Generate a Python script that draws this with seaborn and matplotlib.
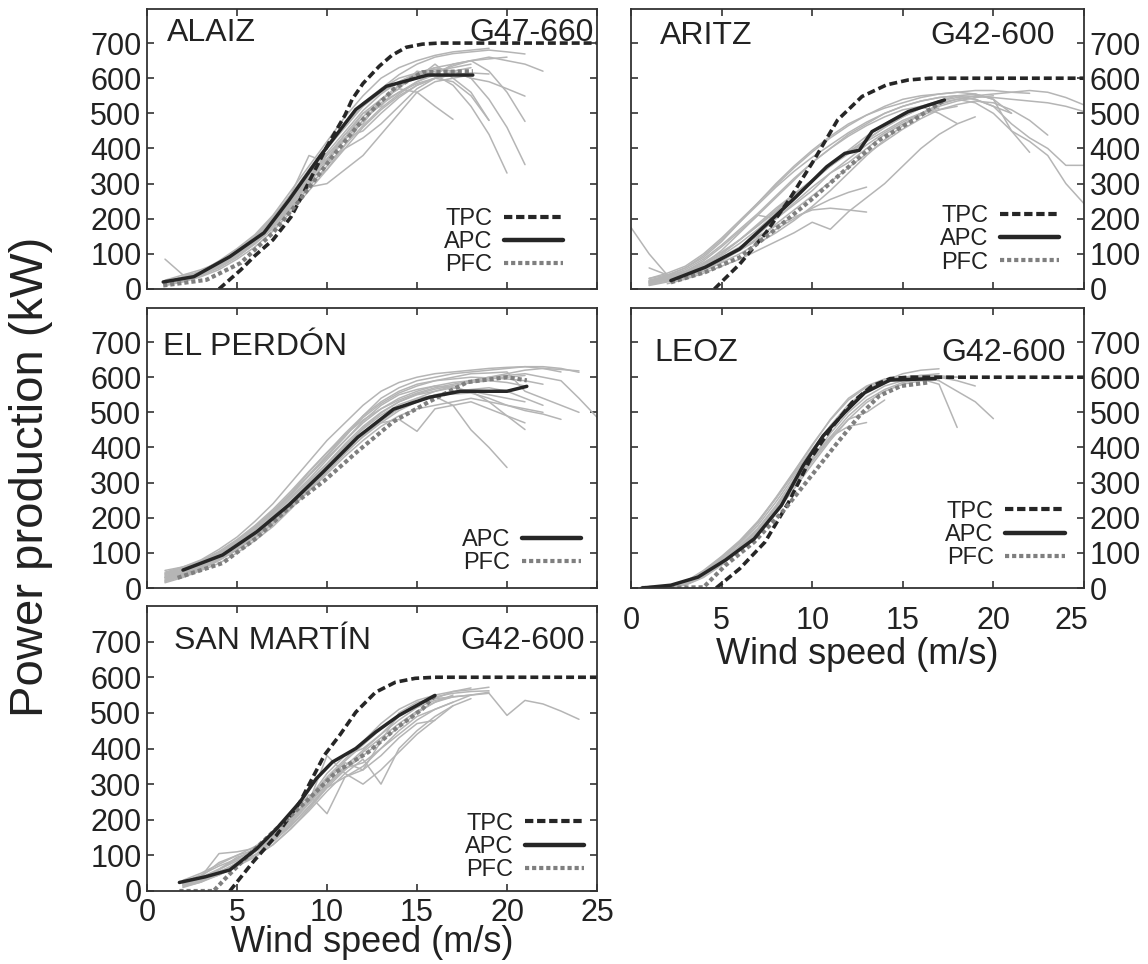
import numpy as np
import pandas as pd
import matplotlib
matplotlib.use("Agg")
import matplotlib.pyplot as plt
import matplotlib.transforms as mtrans
import seaborn as sns
from matplotlib.lines import Line2D

sns.set_theme(style="ticks")
plt.rcParams['font.family'] = ['Liberation Sans', 'DejaVu Sans']

# ---------------- data ----------------
wind_ticks = [0, 5, 10, 15, 20, 25]
power_ticks = [0, 100, 200, 300, 400, 500, 600, 700]

stations = ["ALAIZ", "ARITZ", "EL PERDÓN", "LEOZ", "SAN MARTÍN"]
models = ["G47-660", "G42-600", "", "G42-600", "G42-600"]

# ALAIZ
alaiz_tpc_ws = [4.0, 5.2, 6.0, 7.0, 8.0, 8.5, 9.0, 10.0, 11.0, 11.4, 12.0, 12.9, 13.6, 14.4, 15.3, 16.2, 25.0]
alaiz_tpc_kw = [0, 54, 95, 140, 205, 254, 305, 406, 495, 540, 585, 634, 665, 688, 697, 700, 700]
alaiz_apc_ws = [0.9, 2.6, 4.6, 6.5, 7.9, 9.6, 11.6, 13.3, 15.6, 18.1]
alaiz_apc_kw = [20, 35, 92, 160, 254, 377, 511, 577, 609, 609]
alaiz_pfc_ws = [0.9, 3.3, 5.2, 7.0, 8.5, 10.3, 12.0, 13.7, 15.3, 18.1]
alaiz_pfc_kw = [10, 26, 74, 160, 254, 377, 483, 569, 617, 620]
alaiz_gray_v0 = [1] * 16
alaiz_gray_kw = [
    [20, 35, 50, 80, 115, 155, 210, 280, 350, 420, 490, 550, 600, 630, 650, 665, 675, 680, 685],
    [10, 20, 35, 55, 85, 120, 165, 220, 280, 340, 400, 460, 510, 550, 580, 600, 610],
    [25, 40, 55, 75, 105, 150, 200, 270, 380, 360, 430, 500, 520, 580, 600, 640, 600, 560, 480],
    [15, 28, 45, 70, 100, 140, 195, 255, 330, 370, 440, 470, 540, 570, 620, 610, 580, 520, 440, 330],
    [12, 25, 40, 65, 95, 135, 185, 245, 310, 380, 440, 500, 540, 580, 610, 630, 620, 600, 540, 460, 354],
    [18, 32, 48, 72, 105, 145, 200, 265, 300, 340, 410, 480, 530, 560, 590, 610, 640, 650, 620, 560, 477],
    [20, 30, 45, 70, 100, 140, 190, 250, 325, 400, 470, 520, 570, 610, 640, 660, 670, 675, 680, 675, 669],
    [10, 22, 38, 60, 90, 130, 180, 240, 305, 360, 400, 430, 470, 520, 570, 600, 590, 550, 480],
    [15, 30, 45, 70, 100, 140, 190, 250, 310, 370, 430, 490, 540, 570, 560, 520, 483],
    [14, 28, 44, 68, 98, 138, 188, 248, 318, 388, 448, 508, 555, 590, 615, 630, 640, 650, 655, 660],
    [16, 30, 46, 70, 98, 135, 180, 230, 290, 300, 340, 380, 440, 500, 560, 590, 600, 610],
    [12, 26, 40, 62, 95, 135, 190, 260, 340, 410, 470, 530, 570, 600, 615, 625, 620, 600, 590, 570, 549],
    [85, 40, 45, 75, 110, 150, 205, 270, 340, 400, 460, 520, 560, 590, 610, 620, 630, 640],
    [18, 30, 45, 68, 96, 132, 178, 235, 300, 365, 425, 480, 525, 560, 585, 600, 610, 615, 612],
    [14, 27, 42, 64, 92, 128, 172, 228, 290, 350, 410, 465, 515, 555, 590, 615, 635, 650, 660, 650, 640, 620],
    [20, 34, 50, 74, 104, 142, 190, 248, 314, 382, 430, 450, 500, 545, 580, 600, 620, 630],
]

# ARITZ
aritz_tpc_ws = [4.6, 6.0, 7.4, 8.7, 10.1, 11.4, 12.75, 14.1, 15.3, 16.5, 25.0]
aritz_tpc_kw = [0, 71, 157, 252, 367, 481, 548, 581, 595, 600, 600]
aritz_apc_ws = [2.2, 4.1, 6.0, 7.6, 9.1, 10.8, 11.8, 12.6, 13.3, 15.3, 17.3]
aritz_apc_kw = [24, 62, 114, 190, 262, 348, 386, 395, 448, 505, 538]
aritz_pfc_ws = [2.2, 4.1, 6.0, 7.9, 9.9, 11.8, 13.7, 15.6, 17.3]
aritz_pfc_kw = [19, 48, 90, 167, 252, 338, 424, 481, 538]
aritz_gray_v0 = [0, 1, 1, 1, 1, 1, 1, 1, 1, 1, 1, 1, 2, 1, 1, 1]
aritz_gray_kw = [
    [175, 100, 40, 45, 70, 110, 160, 210, 260, 310, 360, 400, 440, 470, 500, 520, 535, 545, 550, 540, 520, 500],
    [30, 40, 60, 90, 135, 190, 245, 300, 350, 395, 435, 470, 495, 515, 530, 545, 555, 560, 565, 565, 560, 557],
    [20, 30, 45, 65, 95, 130, 170, 215, 260, 305, 350, 395, 435, 470, 500, 520, 535, 545, 540, 520, 470, 430, 400, 352, 352],
    [25, 35, 50, 75, 105, 140, 180, 225, 270, 310, 350, 390, 425, 460, 490, 515, 530, 540, 530, 500, 450, 420, 380, 300, 243],
    [15, 25, 38, 55, 80, 110, 145, 185, 225, 265, 305, 345, 385, 420, 455, 485, 510, 525, 535, 530, 510, 480, 438],
    [10, 20, 32, 50, 75, 100, 130, 160, 195, 235, 280, 330, 380, 425, 465, 500, 525, 540, 550, 555, 560, 565, 560, 545, 524],
    [20, 30, 45, 65, 90, 120, 150, 180, 205, 225, 230, 225, 219],
    [18, 28, 42, 60, 85, 110, 140, 170, 200, 230, 255, 275, 290],
    [22, 35, 55, 85, 125, 170, 215, 265, 315, 360, 400, 435, 465, 490, 510, 520, 500, 471],
    [30, 45, 65, 100, 145, 195, 245, 295, 345, 390, 430, 465, 495, 520, 540, 550, 555, 560, 555, 540, 500],
    [15, 28, 45, 70, 100, 140, 180, 220, 265, 310, 350, 390, 425, 460, 490, 515, 535, 550, 555, 540, 450, 389],
    [60, 40, 48, 70, 100, 140, 185, 230, 270, 310, 350, 385, 420, 450, 480, 500, 515],
    [15, 28, 45, 65, 85, 110, 135, 160, 190, 170, 220, 260, 300, 350, 400, 440, 470, 490],
    [25, 38, 60, 95, 140, 190, 240, 290, 335, 375, 410, 445, 475, 500, 520, 535, 545, 550, 548, 545, 540, 535, 530, 520, 505],
    [12, 22, 35, 55, 80, 115, 155, 200, 245, 290, 330, 370, 410, 445, 475, 500, 520, 535, 545, 550],
    [20, 32, 50, 80, 120, 165, 210, 200, 240, 280, 330, 360, 400, 440, 470, 495, 510, 520],
]

# EL PERDÓN
perdon_apc_ws = [2.0, 4.2, 6.1, 7.9, 9.8, 11.7, 13.7, 15.7, 17.4, 20.0, 21.1]
perdon_apc_kw = [51, 94, 160, 237, 331, 429, 509, 543, 560, 560, 574]
perdon_pfc_ws = [1.7, 4.2, 6.1, 7.9, 9.8, 11.7, 13.7, 15.7, 17.8, 20.0, 21.1]
perdon_pfc_kw = [29, 71, 143, 229, 303, 389, 474, 531, 586, 600, 591]
perdon_gray_v0 = [1] * 15
perdon_gray_kw = [
    [40, 55, 75, 100, 135, 175, 220, 270, 320, 375, 430, 490, 540, 570, 590, 600, 610, 615, 620, 625, 630, 625, 615],
    [25, 40, 60, 85, 115, 150, 190, 235, 285, 340, 390, 440, 480, 510, 530, 545, 520, 450, 400, 343],
    [30, 50, 70, 95, 130, 170, 215, 265, 320, 370, 420, 470, 510, 540, 560, 575, 585, 590, 600, 605, 610, 600, 590, 540, 486],
    [35, 50, 65, 90, 120, 160, 205, 255, 305, 355, 410, 460, 500, 530, 550, 560, 570, 560, 530, 490, 451],
    [45, 60, 80, 110, 145, 190, 240, 300, 360, 420, 470, 520, 560, 585, 600, 610, 615, 620, 625, 628, 630, 630, 625, 614],
    [20, 35, 55, 80, 110, 145, 185, 230, 275, 325, 375, 420, 460, 490, 510, 520, 530, 540, 530, 520, 510, 500],
    [30, 45, 65, 90, 125, 165, 210, 260, 310, 365, 420, 475, 520, 550, 565, 575, 570, 560, 550, 540, 530],
    [50, 60, 75, 100, 130, 170, 215, 270, 330, 385, 440, 490, 530, 560, 580, 590, 595, 600, 598, 595, 590, 580],
    [28, 42, 62, 88, 118, 155, 195, 240, 290, 345, 400, 440, 470, 480, 446, 510, 520, 530, 510, 490, 470],
    [38, 52, 72, 98, 132, 172, 218, 268, 322, 378, 435, 485, 525, 555, 575, 590, 600, 610, 612, 615, 560, 540, 520, 500],
    [15, 30, 50, 70, 100, 135, 175, 225, 280, 335, 385, 430, 470, 505, 530, 550, 560, 565, 570, 560, 540, 520],
    [22, 38, 58, 82, 112, 150, 192, 240, 292, 348, 402, 455, 498, 530, 552, 566, 576, 585, 590, 585, 575],
    [32, 48, 68, 92, 122, 158, 200, 248, 300, 352, 405, 452, 492, 522, 540, 548, 552, 555, 540, 520, 505, 495, 480],
    [18, 33, 53, 78, 108, 142, 182, 228, 278, 330, 382, 432, 475, 512, 540, 560, 575, 585, 595, 600, 605],
    [42, 58, 78, 104, 138, 178, 224, 276, 332, 386, 436, 478, 510, 535, 555, 570, 580, 590, 600, 610, 620, 625, 622, 618],
]

# LEOZ
leoz_tpc_ws = [4.7, 6.0, 7.4, 8.7, 9.9, 11.0, 12.2, 13.3, 14.3, 15.3, 25.0]
leoz_tpc_kw = [0, 55, 131, 244, 367, 452, 528, 575, 596, 600, 600]
leoz_apc_ws = [0.6, 2.2, 3.7, 5.2, 6.8, 8.3, 9.5, 10.6, 11.8, 12.9, 14.3, 16.8]
leoz_apc_kw = [0, 8, 31, 79, 140, 235, 348, 433, 500, 556, 592, 596]
leoz_pfc_ws = [0.6, 4.0, 5.2, 6.8, 8.5, 10.1, 11.4, 12.6, 13.7, 14.9, 16.4]
leoz_pfc_kw = [0, 2, 64, 131, 225, 329, 414, 490, 547, 575, 585]
leoz_gray_v0 = [1] * 10
leoz_gray_kw = [
    [0, 3, 15, 45, 85, 130, 185, 255, 330, 405, 480, 540, 575, 595, 600, 605, 610],
    [0, 2, 10, 35, 70, 115, 165, 230, 300, 370, 440, 500, 545, 575, 590, 595, 580, 457],
    [0, 4, 18, 50, 90, 135, 190, 255, 325, 395, 460, 520, 560, 585, 595, 600, 590, 560, 530, 482],
    [0, 3, 12, 40, 78, 120, 170, 235, 310, 385, 455, 515, 560, 590, 610, 620, 624],
    [0, 2, 8, 30, 65, 110, 160, 220, 290, 360, 425, 480, 500, 535],
    [0, 3, 12, 38, 75, 118, 168, 228, 300, 370, 430, 460, 471],
    [0, 3, 14, 42, 82, 126, 178, 245, 318, 392, 462, 522, 565, 590, 600, 605, 600, 590, 575],
    [0, 2, 10, 34, 72, 112, 160, 222, 292, 362, 430, 490, 535, 565, 585, 595, 598, 600],
    [0, 2, 9, 32, 68, 108, 155, 215, 282, 352, 420, 480, 528, 560, 580, 590, 592],
    [0, 4, 16, 48, 88, 132, 188, 258, 332, 408, 478, 535, 572, 592, 600, 604, 604, 600],
]

# SAN MARTÍN
sanm_tpc_ws = [4.6, 5.9, 7.2, 8.5, 9.85, 10.7, 11.6, 12.7, 13.8, 14.9, 16.0, 25.0]
sanm_tpc_kw = [0, 82, 157, 250, 381, 437, 502, 558, 586, 597, 600, 600]
sanm_apc_ws = [1.8, 3.25, 4.6, 6.1, 7.2, 8.5, 9.4, 10.3, 11.6, 12.7, 14.0, 16.0]
sanm_apc_kw = [24, 40, 59, 119, 175, 250, 315, 362, 400, 446, 493, 549]
sanm_pfc_ws = [1.8, 3.7, 4.35, 5.45, 7.2, 9.0, 10.5, 12.3, 13.8, 15.3, 16.0]
sanm_pfc_kw = [0, 0, 35, 91, 175, 259, 334, 390, 455, 511, 549]
sanm_gray_v0 = [2] * 12
sanm_gray_kw = [
    [20, 40, 105, 110, 120, 150, 200, 260, 330, 380, 400, 440, 490, 520, 540, 560, 570],
    [15, 30, 60, 95, 110, 140, 190, 250, 300, 340, 380, 420, 460, 500, 530, 545, 550, 558],
    [10, 25, 50, 80, 100, 130, 175, 230, 290, 320, 350, 400, 450, 490, 510, 530, 550, 555, 493, 535, 525, 505, 482],
    [25, 45, 70, 90, 120, 160, 210, 270, 217, 320, 340, 380, 430, 470, 479],
    [20, 35, 55, 75, 110, 155, 200, 250, 380, 330, 300, 340, 390, 440, 480, 520, 540],
    [15, 28, 45, 70, 100, 140, 185, 235, 290, 340, 390, 430, 470, 505, 530, 550],
    [30, 50, 75, 100, 125, 160, 205, 260, 320, 370, 420, 470, 510, 535, 550, 560, 565, 572],
    [18, 35, 60, 85, 110, 145, 190, 245, 300, 350, 395, 440, 480, 515, 535, 545],
    [22, 40, 80, 100, 115, 150, 195, 250, 310, 360, 340, 420, 500, 530, 540, 545, 550],
    [12, 25, 45, 70, 95, 130, 175, 225, 280, 330, 370, 300, 400, 450, 490, 520],
    [20, 38, 62, 90, 115, 150, 198, 255, 315, 365, 410, 455, 495, 525, 545, 555, 560, 562],
    [16, 30, 52, 78, 102, 138, 182, 238, 295, 345, 360, 400, 440, 480, 510, 530],
]

# ---------------- styling ----------------
GRAY = "#b5b5b5"
DARK = "#262626"
PFC_COL = "#7f7f7f"
TPC_LS = (0, (2.2, 1.1))
PFC_LS = (0, (1.0, 0.7))
SPINE = "#333333"

fig = plt.figure(figsize=(11.48, 9.64), dpi=100)

L_LEFT, L_W = 147 / 1148, 450 / 1148
R_LEFT, R_W = 631 / 1148, 453 / 1148
ROWS = [((964 - 289) / 964, 280 / 964), ((964 - 588) / 964, 280 / 964), ((964 - 891) / 964, 285 / 964)]

panels = [
    dict(pos=(L_LEFT, ROWS[0][0], L_W, ROWS[0][1]), side="left", xlab=False, xpad=4, lpad=0,
         gray=(alaiz_gray_v0, alaiz_gray_kw), apc=(alaiz_apc_ws, alaiz_apc_kw),
         pfc=(alaiz_pfc_ws, alaiz_pfc_kw), tpc=(alaiz_tpc_ws, alaiz_tpc_kw),
         name_xy=(0.045, 0.915), model_xy=(0.992, 0.915), leg=(0.925, 0.045), ymax=797),
    dict(pos=(R_LEFT, ROWS[0][0], R_W, ROWS[0][1]), side="right", xlab=False, xpad=4, lpad=0,
         gray=(aritz_gray_v0, aritz_gray_kw), apc=(aritz_apc_ws, aritz_apc_kw),
         pfc=(aritz_pfc_ws, aritz_pfc_kw), tpc=(aritz_tpc_ws, aritz_tpc_kw),
         name_xy=(0.063, 0.905), model_xy=(0.935, 0.905), leg=(0.945, 0.055), ymax=797),
    dict(pos=(L_LEFT, ROWS[1][0], L_W, ROWS[1][1]), side="left", xlab=False, xpad=4, lpad=0,
         gray=(perdon_gray_v0, perdon_gray_kw), apc=(perdon_apc_ws, perdon_apc_kw),
         pfc=(perdon_pfc_ws, perdon_pfc_kw), tpc=None,
         name_xy=(0.035, 0.86), model_xy=(0.99, 0.86), leg=(0.965, 0.05), ymax=797),
    dict(pos=(R_LEFT, ROWS[1][0], R_W, ROWS[1][1]), side="right", xlab=True, xpad=13, lpad=1,
         gray=(leoz_gray_v0, leoz_gray_kw), apc=(leoz_apc_ws, leoz_apc_kw),
         pfc=(leoz_pfc_ws, leoz_pfc_kw), tpc=(leoz_tpc_ws, leoz_tpc_kw),
         name_xy=(0.052, 0.84), model_xy=(0.96, 0.84), leg=(0.957, 0.068), ymax=797),
    dict(pos=(L_LEFT, ROWS[2][0], L_W, ROWS[2][1]), side="left", xlab=True, xpad=5, lpad=-2,
         gray=(sanm_gray_v0, sanm_gray_kw), apc=(sanm_apc_ws, sanm_apc_kw),
         pfc=(sanm_pfc_ws, sanm_pfc_kw), tpc=(sanm_tpc_ws, sanm_tpc_kw),
         name_xy=(0.06, 0.877), model_xy=(0.972, 0.877), leg=(0.972, 0.035), ymax=800),
]

for i, p in enumerate(panels):
    ax = fig.add_axes(p["pos"])
    v0s, kws = p["gray"]
    rows = []
    for t, (v0, vals) in enumerate(zip(v0s, kws)):
        for k, val in enumerate(vals):
            rows.append((t, v0 + k, val))
    df = pd.DataFrame(rows, columns=["turbine", "ws", "kw"])
    sns.lineplot(data=df, x="ws", y="kw", units="turbine", estimator=None,
                 color=GRAY, lw=1.1, ax=ax, legend=False)
    handles = []
    labels = []
    if p["tpc"] is not None:
        sns.lineplot(x=p["tpc"][0], y=p["tpc"][1], ax=ax, color=DARK, lw=2.6,
                     linestyle=TPC_LS, estimator=None)
        handles.append(Line2D([], [], color=DARK, lw=3.0, linestyle=(0, (2.0, 0.9))))
        labels.append("TPC")
    sns.lineplot(x=p["pfc"][0], y=p["pfc"][1], ax=ax, color=PFC_COL, lw=3.0,
                 linestyle=PFC_LS, estimator=None)
    sns.lineplot(x=p["apc"][0], y=p["apc"][1], ax=ax, color=DARK, lw=2.5,
                 estimator=None)
    handles.append(Line2D([], [], color=DARK, lw=3.2))
    labels.append("APC")
    handles.append(Line2D([], [], color=PFC_COL, lw=3.0, linestyle=PFC_LS))
    labels.append("PFC")

    ax.set_xlim(0, 25)
    ax.set_ylim(0, p["ymax"])
    ax.set_xticks(wind_ticks)
    ax.set_yticks(power_ticks)
    ax.tick_params(direction="in", length=5, width=1.2, color=SPINE,
                   top=True, bottom=True, left=True, right=True,
                   labelsize=22, labelcolor="#222222", pad=4)
    ax.tick_params(axis="x", pad=p["xpad"])
    if p["side"] == "left":
        ax.tick_params(labelleft=True, labelright=False)
    else:
        ax.tick_params(labelleft=False, labelright=True)
    ax.tick_params(labelbottom=p["xlab"])
    ax.set_ylabel("")
    if p["xlab"]:
        ax.set_xlabel("Wind speed (m/s)", fontsize=26, color="#222222", labelpad=p["lpad"])
        if p["side"] == "right":
            last = ax.get_xticklabels()[-1]
            last.set_transform(last.get_transform() +
                               mtrans.ScaledTranslation(-9 / 72, 0, fig.dpi_scale_trans))
    else:
        ax.set_xlabel("")
    for s in ax.spines.values():
        s.set_color(SPINE)
        s.set_linewidth(1.3)
        s.set_visible(True)

    ax.text(p["name_xy"][0], p["name_xy"][1], stations[i], transform=ax.transAxes,
            fontsize=23, ha="left", va="center", color="#222222")
    if models[i]:
        ax.text(p["model_xy"][0], p["model_xy"][1], models[i], transform=ax.transAxes,
                fontsize=23, ha="right", va="center", color="#222222")

    leg = ax.legend(handles, labels, loc="lower right", bbox_to_anchor=p["leg"],
                    frameon=False, markerfirst=False, fontsize=17, handlelength=2.5,
                    handletextpad=0.5, labelspacing=0.05, borderaxespad=0, borderpad=0)
    for txt in leg.get_texts():
        txt.set_color("#222222")

fig.text(0.027, 0.505, "Power production (kW)", rotation=90, fontsize=34,
         ha="center", va="center", color="#222222")

fig.savefig("out.png", dpi=100, facecolor="white")
